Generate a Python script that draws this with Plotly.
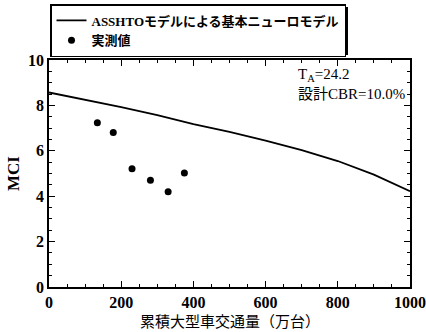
import plotly.graph_objects as go

# Model curve (ASSHTO-based neuro model)
model_x = [0, 100, 200, 300, 400, 500, 600, 700, 800, 900, 1000]
model_y = [8.57, 8.25, 7.92, 7.57, 7.18, 6.83, 6.45, 6.03, 5.55, 4.95, 4.22]

# Measured values
meas_x = [134, 178, 230, 281, 330, 375]
meas_y = [7.24, 6.81, 5.21, 4.70, 4.20, 5.02]

x_ticks = [0, 200, 400, 600, 800, 1000]
y_ticks = [0, 2, 4, 6, 8, 10]

SERIF = "Liberation Serif, Times New Roman, Noto Sans CJK JP, serif"

fig = go.Figure()
fig.add_trace(go.Scatter(x=model_x, y=model_y, mode="lines",
                         line=dict(color="black", width=1.8),
                         name="<b>ASSHTOモデルによる基本ニューロモデル</b>"))
fig.add_trace(go.Scatter(x=meas_x, y=meas_y, mode="markers",
                         marker=dict(color="black", size=7),
                         name="<b>実測値</b>"))

axis_common = dict(showline=True, linecolor="black", linewidth=1.5, mirror="ticks",
                   ticks="inside", ticklen=6, tickwidth=1.2, tickcolor="black",
                   showgrid=False, zeroline=False, automargin=False,
                   tickfont=dict(family=SERIF, size=16, color="black", weight="bold"))

fig.update_xaxes(range=[0, 1000], tickvals=x_ticks,
                 minor=dict(dtick=50, ticks="inside", ticklen=3, tickcolor="black", tickwidth=1),
                 **axis_common)
fig.update_yaxes(range=[0, 10], tickvals=y_ticks,
                 minor=dict(dtick=0.5, ticks="inside", ticklen=3, tickcolor="black", tickwidth=1),
                 title=dict(text="<b>MCI</b>", standoff=4,
                            font=dict(family=SERIF, size=17, color="black")),
                 **axis_common)

# x-axis title
fig.add_annotation(x=0.5, y=(287 - 320) / 227, xref="paper", yref="paper",
                   xanchor="center", yanchor="middle", showarrow=False,
                   text="累積大型車交通量（万台）",
                   font=dict(family="Noto Sans CJK JP", size=15, color="black"))

fig.add_annotation(x=684, y=9.34, xref="x", yref="y", xanchor="left", yanchor="middle",
                   text="T<sub>A</sub>=24.2", showarrow=False,
                   font=dict(family=SERIF, size=15, color="black"))
fig.add_annotation(x=684, y=8.5, xref="x", yref="y", xanchor="left", yanchor="middle",
                   text="設計CBR=10.0%", showarrow=False,
                   font=dict(family=SERIF, size=15, color="black"))

# legend shadow
fig.add_shape(type="rect", xref="paper", yref="paper",
              x0=(53 - 49) / 361, x1=(348 - 49) / 361,
              y0=(287 - 55) / 227, y1=(287 - 7) / 227,
              fillcolor="black", line=dict(width=0), layer="above")

fig.update_layout(
    width=426, height=332,
    margin=dict(l=49, r=16, t=60, b=45, autoexpand=False),
    paper_bgcolor="white", plot_bgcolor="white",
    font=dict(family=SERIF, color="black"),
    legend=dict(x=(50 - 49) / 361, y=(287 - 4) / 227, xanchor="left", yanchor="top",
                bgcolor="white", bordercolor="black", borderwidth=1.5,
                font=dict(family=SERIF, size=13, color="black"),
                tracegroupgap=0, itemwidth=30),
    showlegend=True,
)

fig.write_html("out.html", config={"displayModeBar": False},
               post_script="document.body.style.margin='0';document.body.style.overflow='hidden';")
